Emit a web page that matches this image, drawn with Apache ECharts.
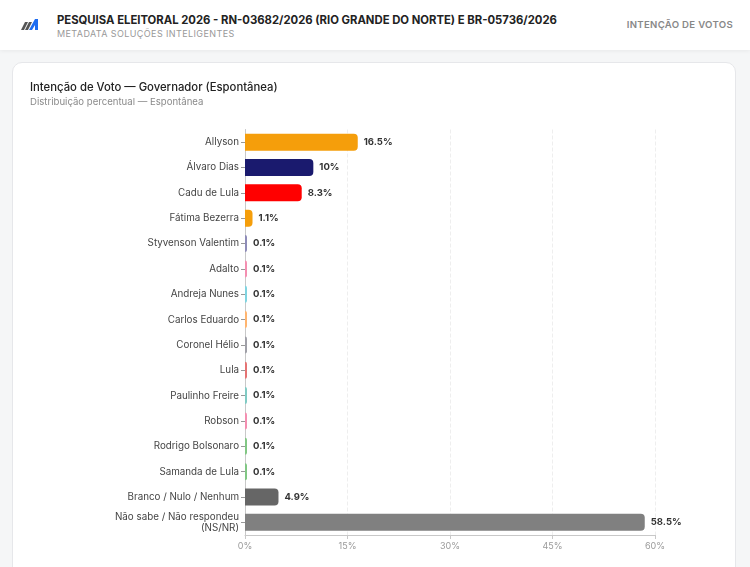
<!DOCTYPE html>
<html><head><meta charset="utf-8">
<script src="https://cdn.jsdelivr.net/npm/echarts@6/dist/echarts.min.js"></script>
<style>
html,body{margin:0;padding:0;width:750px;height:567px;overflow:hidden;background:#f5f6f7;font-family:Inter,"Noto Sans",Roboto,sans-serif;}
#hdr{position:absolute;left:0;top:0;width:750px;height:50px;background:#fff;box-shadow:0 1px 4px rgba(0,0,0,0.06);}
#logo{position:absolute;left:21px;top:19px;}
#t1{position:absolute;left:57px;top:13px;font-size:11.3px;font-weight:700;color:#222;white-space:nowrap;}
#t2{position:absolute;left:57px;top:28px;font-size:9px;color:#999;letter-spacing:0.4px;white-space:nowrap;}
#t3{position:absolute;right:17px;top:19px;font-size:9.6px;font-weight:600;color:#888;letter-spacing:0.3px;white-space:nowrap;}
#card{position:absolute;left:12px;top:62px;width:722px;height:540px;background:#fff;border:1px solid #e6e7ea;border-radius:10px;}
#ct{position:absolute;left:17px;top:17px;font-size:11.3px;color:#222;font-weight:500;white-space:nowrap;}
#cs{position:absolute;left:17px;top:33px;font-size:9.6px;color:#8a8a8a;white-space:nowrap;}
#chart{position:absolute;left:0;top:0;width:722px;height:505px;}
</style></head>
<body>
<div id="hdr">
  <svg id="logo" width="20" height="12" viewBox="0 0 20 12">
    <polygon points="0,11 4,3 7,3 3,11" fill="#555"/>
    <polygon points="4,11 8,3 11,3 7,11" fill="#555"/>
    <polygon points="8,11 14,0 17,0 17,11 14,11 14,6 11,11" fill="#1e6cf0"/>
  </svg>
  <div id="t1">PESQUISA ELEITORAL 2026 - RN-03682/2026 (RIO GRANDE DO NORTE) E BR-05736/2026</div>
  <div id="t2">METADATA SOLUÇÕES INTELIGENTES</div>
  <div id="t3">INTENÇÃO DE VOTOS</div>
</div>
<div id="card">
  <div id="chart"></div>
  <div id="ct">Intenção de Voto — Governador (Espontânea)</div>
  <div id="cs">Distribuição percentual — Espontânea</div>
</div>
<script>
var categories = ["Allyson","Álvaro Dias","Cadu de Lula","Fátima Bezerra","Styvenson Valentim","Adalto","Andreja Nunes","Carlos Eduardo","Coronel Hélio","Lula","Paulinho Freire","Robson","Rodrigo Bolsonaro","Samanda de Lula","Branco / Nulo / Nenhum","Não sabe / Não respondeu\n(NS/NR)"];
var values = [16.5,10,8.3,1.1,0.1,0.1,0.1,0.1,0.1,0.1,0.1,0.1,0.1,0.1,4.9,58.5];
var colors = ["#f59e0b","#1a1a6e","#ff0000","#f59e0b","#8e8cb8","#f48fb1","#80d4e0","#ffb570","#a0a0a8","#e57373","#80cbc4","#f48fb1","#81c784","#81c784","#666666","#808080"];
var xTicks = [0,15,30,45,60];

var chart = echarts.init(document.getElementById('chart'));
chart.setOption({
  animation:false,
  grid:{left:232,right:80,top:66.5,bottom:33,containLabel:false},
  xAxis:{type:'value',min:xTicks[0],max:xTicks[xTicks.length-1],interval:xTicks[1]-xTicks[0],
    axisLine:{show:true,lineStyle:{color:'#c8c8c8'}},
    axisTick:{show:true,length:4,lineStyle:{color:'#c8c8c8'}},
    axisLabel:{formatter:'{value}%',color:'#9a9a9a',fontSize:9,margin:7,fontFamily:'Inter'},
    splitLine:{show:true,lineStyle:{color:'#eeeeee',type:'dashed'}}},
  yAxis:{type:'category',data:categories,inverse:true,
    axisLine:{show:true,lineStyle:{color:'#c8c8c8'}},
    axisTick:{show:true,length:4,alignWithLabel:true,lineStyle:{color:'#999'}},
    axisLabel:{color:'#444',fontSize:9.8,margin:6,lineHeight:11,fontFamily:'Inter'}},
  series:[{type:'bar',barWidth:17,barMinHeight:2,
    data:values.map(function(v,i){return {value:v,itemStyle:{color:colors[i],borderRadius:[0,4,4,0]}};}),
    label:{show:true,position:'right',formatter:'{c}%',color:'#333',fontSize:9.5,fontWeight:'bold',distance:6,fontFamily:'Inter'}}]
});
</script>
</body></html>
